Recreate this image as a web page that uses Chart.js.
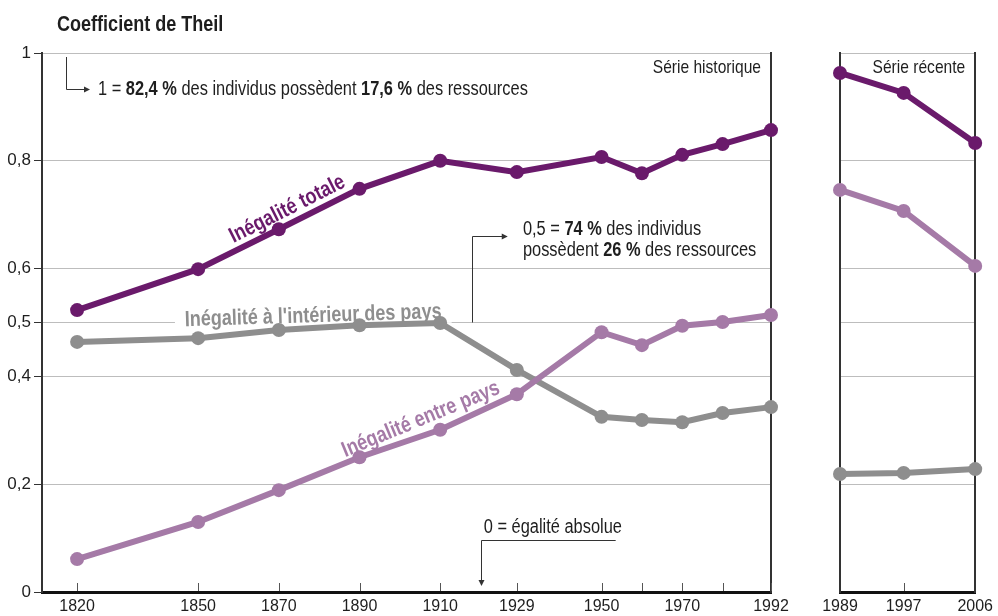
<!DOCTYPE html>
<html>
<head>
<meta charset="utf-8">
<script src="https://cdn.jsdelivr.net/npm/chart.js"></script>
<style>
  body { margin: 0; background: #fff; }
  #wrap { position: relative; width: 998px; height: 616px; }
  #wrap canvas { position: absolute; left: 0; top: 0; }
</style>
</head>
<body>
<div id="wrap">
  <canvas id="histChart" width="998" height="616"></canvas>
  <canvas id="recentChart" width="998" height="616"></canvas>
</div>
<script>
// historical series (1820-1992)
var histYears = [1820, 1850, 1870, 1890, 1910, 1929, 1950, 1960, 1970, 1980, 1992];
var histTotale = [0.523, 0.599, 0.673, 0.748, 0.800, 0.779, 0.807, 0.777, 0.811, 0.831, 0.857];
var histInterieur = [0.464, 0.471, 0.486, 0.495, 0.499, 0.412, 0.325, 0.319, 0.315, 0.332, 0.343];
var histEntre = [0.061, 0.130, 0.189, 0.250, 0.301, 0.367, 0.482, 0.458, 0.494, 0.501, 0.514];

// recent series
var recentYears = [1989, 1997, 2006];
var recentTotale = [0.963, 0.926, 0.833];
var recentInterieur = [0.219, 0.221, 0.228];
var recentEntre = [0.746, 0.707, 0.605];

var histTickLabels = [1820, 1850, 1870, 1890, 1910, 1929, 1950, 1970, 1992];
var recentTickLabels = [1989, 1997, 2006];
var yTickValues = [0, 0.2, 0.4, 0.5, 0.6, 0.8, 1];

var FONT = '"Liberation Sans", Arial, sans-serif';
var NARROW = 0.82; // no condensed font installed, squeeze the drawn text instead
var DARK = "#6a1a6b";
var LIGHT = "#a57aa7";
var GREY = "#8e8e8e";
var TEXT = "#1e1e1e";

function pts(xs, ys) {
  return xs.map(function (x, i) { return { x: x, y: ys[i] }; });
}

function series(label, xs, ys, color) {
  return {
    label: label,
    data: pts(xs, ys),
    borderColor: color,
    backgroundColor: color,
    pointBackgroundColor: color,
    pointBorderWidth: 0,
    borderWidth: 6,
    pointRadius: 7,
    tension: 0,
    clip: false
  };
}

function arrowHead(ctx, x, y, dir) {
  ctx.beginPath();
  if (dir === "right") {
    ctx.moveTo(x, y);
    ctx.lineTo(x - 6, y - 3);
    ctx.lineTo(x - 6, y + 3);
  } else {
    ctx.moveTo(x, y);
    ctx.lineTo(x - 3, y - 6);
    ctx.lineTo(x + 3, y - 6);
  }
  ctx.closePath();
  ctx.fill();
}

function narrowText(ctx, str, x, y) {
  ctx.save();
  ctx.translate(x, y);
  ctx.scale(NARROW, 1);
  ctx.fillText(str, 0, 0);
  ctx.restore();
}

// text made of normal / bold pieces
function runs(ctx, parts, x, y, size) {
  ctx.textAlign = "left";
  parts.forEach(function (p) {
    ctx.font = (p[1] ? "bold " : "") + size + "px " + FONT;
    narrowText(ctx, p[0], x, y);
    x += ctx.measureText(p[0]).width * NARROW;
  });
}

function seriesLabel(ctx, text, cx, cy, angle, color, bg) {
  ctx.save();
  ctx.translate(cx, cy);
  ctx.rotate((angle * Math.PI) / 180);
  ctx.scale(NARROW, 1);
  ctx.font = "bold 22px " + FONT;
  ctx.textAlign = "center";
  ctx.textBaseline = "middle";
  if (bg) {
    var w = ctx.measureText(text).width;
    ctx.fillStyle = "#fff";
    ctx.fillRect(-w / 2 - 12, -13, w + 24, 24);
  }
  ctx.fillStyle = color;
  ctx.fillText(text, 0, 0);
  ctx.restore();
}

function innerTicks(ctx, chart, years) {
  var xs = chart.scales.x;
  var a = chart.chartArea;
  ctx.save();
  ctx.strokeStyle = "#555";
  ctx.lineWidth = 1;
  years.forEach(function (yr) {
    var px = Math.round(xs.getPixelForValue(yr)) + 0.5;
    ctx.beginPath();
    ctx.moveTo(px, a.bottom - 1);
    ctx.lineTo(px, a.bottom - 9);
    ctx.stroke();
  });
  ctx.restore();
}

var histDecor = {
  id: "histDecor",
  beforeDatasetsDraw: function (chart) {
    var ctx = chart.ctx;
    var X = function (v) { return chart.scales.x.getPixelForValue(v); };
    var Y = function (v) { return chart.scales.y.getPixelForValue(v); };
    seriesLabel(ctx, "Inégalité totale", X(1872.1), Y(0.71), -26.7, DARK, false);
    seriesLabel(ctx, "Inégalité à l'intérieur des pays", X(1878.5), Y(0.512), -1.8, GREY, true);
    seriesLabel(ctx, "Inégalité entre pays", X(1905.2), Y(0.32), -22.4, LIGHT, false);
  },
  afterDraw: function (chart) {
    var ctx = chart.ctx;
    var a = chart.chartArea;
    var X = function (v) { return chart.scales.x.getPixelForValue(v); };
    var Y = function (v) { return chart.scales.y.getPixelForValue(v); };
    innerTicks(ctx, chart, histYears);

    ctx.save();
    ctx.fillStyle = TEXT;
    ctx.textBaseline = "middle";
    ctx.textAlign = "left";
    ctx.font = "bold 22px " + FONT;
    narrowText(ctx, "Coefficient de Theil", 57, 25);

    ctx.textAlign = "right";
    ctx.font = "19px " + FONT;
    narrowText(ctx, "Série historique", a.right - 10, 68);

    ctx.strokeStyle = "#333";
    ctx.fillStyle = "#333";
    ctx.lineWidth = 1;

    // 1 = ...
    var ax = a.left + 24.5;
    ctx.beginPath();
    ctx.moveTo(ax, a.top + 4);
    ctx.lineTo(ax, a.top + 36.5);
    ctx.lineTo(a.left + 46, a.top + 36.5);
    ctx.stroke();
    arrowHead(ctx, a.left + 48, a.top + 36.5, "right");
    ctx.fillStyle = TEXT;
    runs(ctx, [["1 = ", false], ["82,4 %", true], [" des individus possèdent ", false],
      ["17,6 %", true], [" des ressources", false]], a.left + 56, a.top + 36, 20);

    // 0,5 = ...
    var bx = Math.round(X(1918)) + 0.5;
    var by = Math.round(Y(0.661)) + 0.5;
    ctx.fillStyle = "#333";
    ctx.beginPath();
    ctx.moveTo(bx, Y(0.5));
    ctx.lineTo(bx, by);
    ctx.lineTo(X(1926.5), by);
    ctx.stroke();
    arrowHead(ctx, X(1926.5) + 1, by, "right");
    ctx.fillStyle = TEXT;
    runs(ctx, [["0,5 = ", false], ["74 %", true], [" des individus", false]], X(1930.5), Y(0.672), 20);
    runs(ctx, [["possèdent ", false], ["26 %", true], [" des ressources", false]], X(1930.5), Y(0.633), 20);

    // 0 = ...
    var cx = Math.round(X(1920)) + 0.5;
    var cy = Math.round(Y(0.0965)) + 0.5;
    ctx.fillStyle = "#333";
    ctx.beginPath();
    ctx.moveTo(X(1953.5), cy);
    ctx.lineTo(cx, cy);
    ctx.lineTo(cx, Y(0.013));
    ctx.stroke();
    arrowHead(ctx, cx, Y(0.011), "down");
    ctx.fillStyle = TEXT;
    runs(ctx, [["0 = égalité absolue", false]], X(1920.8), Y(0.119), 20);
    ctx.restore();
  }
};

var recentDecor = {
  id: "recentDecor",
  afterDraw: function (chart) {
    var ctx = chart.ctx;
    var a = chart.chartArea;
    innerTicks(ctx, chart, [1997]);
    ctx.save();
    ctx.fillStyle = TEXT;
    ctx.textBaseline = "middle";
    ctx.textAlign = "right";
    ctx.font = "19px " + FONT;
    narrowText(ctx, "Série récente", a.right - 10, 68);
    ctx.restore();
  }
};

function xAxis(min, max, labels) {
  return {
    type: "linear",
    min: min,
    max: max,
    afterBuildTicks: function (scale) {
      scale.ticks = labels.map(function (v) { return { value: v }; });
    },
    afterFit: function (scale) { scale.height = 24; },
    grid: { display: false, drawTicks: false },
    border: { display: true, color: "#111", width: 3 },
    ticks: {
      autoSkip: false,
      maxRotation: 0,
      minRotation: 0,
      padding: 5,
      color: TEXT,
      font: { family: FONT, size: 16 },
      callback: function (v) { return String(v); }
    }
  };
}

function yAxis(showLabels, width) {
  return {
    type: "linear",
    min: 0,
    max: 1,
    afterBuildTicks: function (scale) {
      scale.ticks = yTickValues.map(function (v) { return { value: v }; });
    },
    afterFit: function (scale) { scale.width = width; },
    grid: {
      color: "#bdbdbd",
      lineWidth: 1,
      drawTicks: showLabels,
      tickLength: 8,
      tickColor: "#333"
    },
    border: { display: true, color: "#333", width: 2 },
    ticks: {
      display: showLabels,
      padding: 3,
      color: TEXT,
      font: { family: FONT, size: 17 },
      callback: function (v) { return String(v).replace(".", ","); }
    }
  };
}

var rightEdge = {
  position: "right",
  min: 0,
  max: 1,
  afterFit: function (scale) { scale.width = 0; },
  grid: { display: false, drawTicks: false },
  border: { display: true, color: "#333", width: 2 },
  ticks: { display: false }
};

var common = {
  responsive: false,
  animation: false,
  events: [],
  plugins: { legend: { display: false }, tooltip: { enabled: false } }
};

new Chart(document.getElementById("histChart"), {
  type: "line",
  data: {
    datasets: [
      series("Inégalité totale", histYears, histTotale, DARK),
      series("Inégalité entre pays", histYears, histEntre, LIGHT),
      series("Inégalité à l'intérieur des pays", histYears, histInterieur, GREY)
    ]
  },
  options: Object.assign({}, common, {
    layout: { padding: { left: 0, top: 53, right: 227, bottom: 0 } },
    scales: {
      x: xAxis(1811.3, 1992, histTickLabels),
      y: yAxis(true, 42),
      y2: rightEdge
    }
  }),
  plugins: [histDecor]
});

new Chart(document.getElementById("recentChart"), {
  type: "line",
  data: {
    datasets: [
      series("Inégalité totale", recentYears, recentTotale, DARK),
      series("Inégalité entre pays", recentYears, recentEntre, LIGHT),
      series("Inégalité à l'intérieur des pays", recentYears, recentInterieur, GREY)
    ]
  },
  options: Object.assign({}, common, {
    layout: { padding: { left: 840, top: 53, right: 19, bottom: 0 } },
    scales: {
      x: xAxis(1989, 2006, recentTickLabels),
      y: yAxis(false, 0),
      y2: rightEdge
    }
  }),
  plugins: [recentDecor]
});
</script>
</body>
</html>
